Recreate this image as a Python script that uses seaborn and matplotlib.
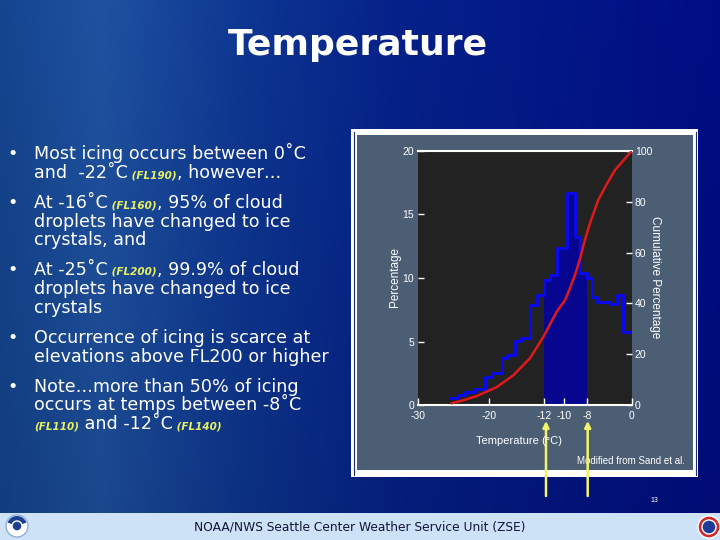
import matplotlib
matplotlib.use("Agg")
import matplotlib.pyplot as plt
import numpy as np
import seaborn as sns
from matplotlib.patches import Rectangle, Circle, Wedge

# icing occurrence per temperature bin (percent)
bin_edges = [-25.6, -24.4, -23.4, -22.0, -20.6, -19.7, -18.3, -17.6, -16.4, -15.5,
             -14.3, -13.35, -12.3, -11.5, -10.45, -9.1, -7.96, -7.26, -6.3, -5.6,
             -4.9, -3.05, -2.1, -1.2, 0.0]
bin_pct = [0.53, 0.79, 1.05, 1.26, 2.18, 2.55, 3.67, 3.94, 5.06, 5.3,
           7.87, 8.66, 9.84, 10.24, 12.34, 16.67, 13.25, 10.37, 9.97, 8.53,
           8.14, 7.95, 8.66, 5.72]
band_lo, band_hi = -12.3, -6.3

# cumulative percentage curve
cum_temp = [-25.3, -23.5, -21.8, -19.0, -16.6, -14.3, -12.4, -10.55, -9.37, -8.77,
            -7.97, -7.27, -6.57, -5.9, -4.7, -3.5, -2.35, -1.1, 0.0]
cum_pct = [0.7, 2.0, 3.5, 7.0, 11.8, 18.4, 26.9, 36.7, 41.3, 45.3,
           51.2, 57.5, 65.0, 71.3, 80.7, 87.0, 92.5, 96.5, 100.0]

x_tick_pos = [-30, -20, -12.3, -9.5, -6.3, 0]
x_tick_lab = ["-30", "-20", "-12", "-10", "-8", "0"]
y_ticks = [0, 5, 10, 15, 20]
y2_ticks = [0, 20, 40, 60, 80, 100]

# slide text: (baseline y, bullet?, [(text, kind), ...])
body = [
    (159.3, True, [("Most icing occurs between 0˚C", "w")]),
    (178.3, False, [("and  -22˚C", "w"), (" (FL190)", "fl"), (", however…", "w")]),
    (208.3, True, [("At -16˚C", "w"), (" (FL160)", "fl"), (", 95% of cloud", "w")]),
    (226.7, False, [("droplets have changed to ice", "w")]),
    (245.0, False, [("crystals, and", "w")]),
    (275.0, True, [("At -25˚C", "w"), (" (FL200)", "fl"), (", 99.9% of cloud", "w")]),
    (294.0, False, [("droplets have changed to ice", "w")]),
    (313.3, False, [("crystals", "w")]),
    (343.3, True, [("Occurrence of icing is scarce at", "w")]),
    (361.7, False, [("elevations above FL200 or higher", "w")]),
    (391.7, True, [("Note…more than 50% of icing", "w")]),
    (410.0, False, [("occurs at temps between -8˚C", "w")]),
    (429.3, False, [("(FL110)", "fl"), (" and -12˚C", "w"), (" (FL140)", "fl")]),
]

W, H = 720, 540
plt.rcParams["font.family"] = ["Liberation Sans Narrow", "Liberation Sans", "DejaVu Sans"]
fig = plt.figure(figsize=(7.2, 5.4), dpi=100)

# background slide
bg = fig.add_axes([0, 0, 1, 1], zorder=0)
bg.set_xlim(0, W)
bg.set_ylim(H, 0)
bg.axis("off")
gx = np.linspace(0, W, 300)
sx = [0, 100, 250, 400, 720]
r = np.interp(gx, sx, [0.08, 0.12, 0.05, 0.02, 0.00])
g = np.interp(gx, sx, [0.27, 0.32, 0.21, 0.13, 0.05])
b = np.interp(gx, sx, [0.56, 0.63, 0.57, 0.54, 0.52])
gy = np.linspace(0, 1, 60)[:, None, None]
img = np.dstack([r, g, b])[None, 0] * np.ones((60, 1, 1)) * (1 - 0.12 * gy)
bg.imshow(img, extent=[0, W, 513, 0], aspect="auto", zorder=0)
bg.add_patch(Rectangle((0, 513), W, 27, fc="#cde1f7", ec="none", zorder=1))

# chart panel frame
bg.add_patch(Rectangle((351, 129), 347, 348, fc="white", ec="none", zorder=1))
bg.plot([353.8, 353.8], [132, 475], color="#1a2a70", lw=0.8, zorder=2)
bg.plot([695.5, 695.5], [132, 475], color="#1a2a70", lw=0.8, zorder=2)
bg.add_patch(Rectangle((357, 135), 336, 335, fc="#4b5e74", ec="none", zorder=2))

bg.text(358, 45, "Temperature", color="white", fontsize=26, fontweight="bold",
        family="DejaVu Sans", ha="center", va="center", zorder=3)

fig.canvas.draw()
renderer = fig.canvas.get_renderer()
styles = {
    "w": dict(color="white", fontsize=12.6, family="DejaVu Sans"),
    "fl": dict(color="#e8f060", fontsize=7.5, family="DejaVu Sans",
               fontweight="bold", fontstyle="italic"),
}
for yb, bullet, segs in body:
    if bullet:
        bg.text(12.5, yb, "•", ha="center", va="baseline", zorder=3, **styles["w"])
    x = 34.3
    for txt, kind in segs:
        t = bg.text(x, yb, txt, ha="left", va="baseline", zorder=3, **styles[kind])
        x = t.get_window_extent(renderer).x1

bg.text(577, 461, "Modified from Sand et al.", color="white", fontsize=7,
        ha="left", va="center", zorder=3)
bg.text(654, 500, "13", color="white", fontsize=5, ha="center", va="center", zorder=3)
bg.text(360, 527, "NOAA/NWS Seattle Center Weather Service Unit (ZSE)", color="#14143c",
        fontsize=8.8, family="DejaVu Sans", ha="center", va="center", zorder=3)

# logos (simplified)
bg.add_patch(Circle((17, 526), 11, fc="white", ec="#8fb0d8", lw=1, zorder=3))
bg.add_patch(Wedge((17, 526), 10, 200, 340, fc="#1c3f8f", zorder=4))
bg.add_patch(Circle((17, 526), 5, fc="#1c3f8f", ec="white", lw=1, zorder=4))
bg.add_patch(Circle((709, 527), 11, fc="#d02a2a", ec="#ffffff", lw=1, zorder=3))
bg.add_patch(Circle((709, 527), 7, fc="#1b3c9a", ec="white", lw=1, zorder=4))

# yellow arrows
for xa in [546, 587.7]:
    bg.annotate("", xy=(xa, 421), xytext=(xa, 496),
                arrowprops=dict(arrowstyle="-|>", color="#f4f46a", lw=1.8,
                                mutation_scale=9, shrinkA=0, shrinkB=0), zorder=5)

# chart
ax = fig.add_axes([418.3 / W, 1 - 405 / H, 213.4 / W, 254 / H], zorder=1)
ax.set_facecolor("#222222")
centers = [(a + c) / 2 for a, c in zip(bin_edges[:-1], bin_edges[1:])]
band_idx = [i for i in range(len(bin_pct))
            if bin_edges[i] >= band_lo - 1e-9 and bin_edges[i + 1] <= band_hi + 1e-9]
band_edges = [bin_edges[i] for i in band_idx] + [bin_edges[band_idx[-1] + 1]]
sns.histplot(x=[centers[i] for i in band_idx], weights=[bin_pct[i] for i in band_idx],
             bins=band_edges, element="step", fill=True, color="#06068e", alpha=1,
             linewidth=0, ax=ax)
sns.histplot(x=centers, weights=bin_pct, bins=bin_edges, element="step", fill=False,
             color="#0a0ae8", linewidth=2.2, ax=ax)
ax.set_xlim(-30, 0)
ax.set_ylim(0, 20)

ax2 = ax.twinx()
ax2.set_zorder(2)
ax2.patch.set_visible(False)
sns.lineplot(x=cum_temp, y=cum_pct, color="#e01a1a", linewidth=1.8, ax=ax2)
ax2.set_ylim(0, 100)

for a in (ax, ax2):
    for s in ("left", "right", "top", "bottom"):
        a.spines[s].set_visible(False)
for s in ("top", "bottom"):
    ax.spines[s].set_visible(True)
    ax.spines[s].set_color("white")
    ax.spines[s].set_linewidth(1.5)

ax.set_xticks(x_tick_pos, x_tick_lab)
ax.set_yticks(y_ticks)
ax2.set_yticks(y2_ticks)
ax.tick_params(axis="x", direction="in", length=5, width=1, colors="white",
               labelsize=7.5, pad=4.5)
ax.tick_params(axis="y", direction="in", length=4, width=1, colors="white",
               labelsize=7.5, pad=3)
ax2.tick_params(axis="y", direction="in", length=4, width=1, colors="white",
                labelsize=7.5, pad=2.2)

ax.set_ylabel("Percentage", color="white", fontsize=8.5, va="center")
ax.yaxis.set_label_coords(-0.108, 0.502)
ax2.set_ylabel("Cumulative Percentage", color="white", fontsize=8.5, rotation=270,
               va="center")
ax2.yaxis.set_label_coords(1.108, 0.502)
ax.set_xlabel("Temperature (°C)", color="white", fontsize=8, va="center")
ax.xaxis.set_label_coords(0.472, -0.142)

fig.savefig("out.png", dpi=100)
